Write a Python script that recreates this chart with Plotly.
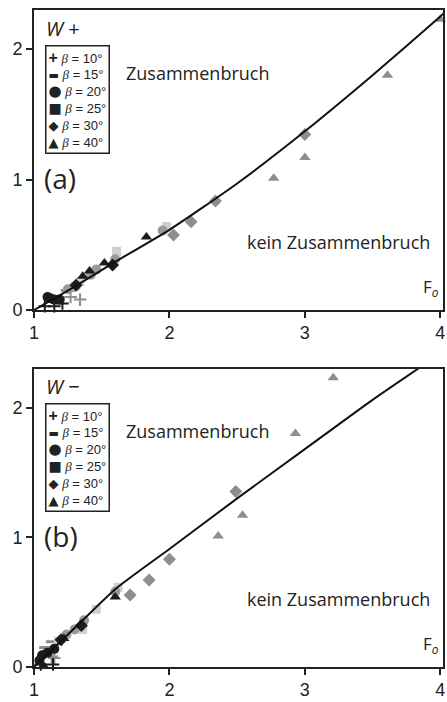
import plotly.graph_objects as go

# ---------------- data (F_o, W) ----------------
# Panel (a): W+
A_curve_F = [1.0, 1.3, 1.58, 2.0, 2.5, 3.0, 3.5, 4.0, 4.03]
A_curve_W = [0.0, 0.18, 0.358, 0.615, 0.97, 1.37, 1.80, 2.25, 2.28]

A10_dark_F = [1.08, 1.15, 1.21]
A10_dark_W = [0.03, 0.03, 0.05]
A10_gray_F = [1.27, 1.34]
A10_gray_W = [0.10, 0.08]
A15_dark_F = [1.17]
A15_dark_W = [0.09]
A15_gray_F = [1.25, 1.29]
A15_gray_W = [0.15, 0.17]
A20_dark_F = [1.10, 1.12, 1.15, 1.19]
A20_dark_W = [0.10, 0.09, 0.08, 0.08]
A20_gray_F = [1.25, 1.42, 1.46, 1.60, 1.95]
A20_gray_W = [0.16, 0.27, 0.31, 0.39, 0.61]
A25_F = [1.30, 1.34, 1.61, 1.98]
A25_W = [0.18, 0.22, 0.45, 0.64]
A30_dark_F = [1.31, 1.58]
A30_dark_W = [0.19, 0.345]
A30_gray_F = [2.03, 2.16, 2.34, 3.00]
A30_gray_W = [0.575, 0.677, 0.835, 1.346]
A40_dark_F = [1.36, 1.41, 1.52, 1.83]
A40_dark_W = [0.26, 0.30, 0.36, 0.56]
A40_gray_F = [2.77, 3.00, 3.61, 4.00]
A40_gray_W = [1.01, 1.17, 1.80, 2.23]

# Panel (b): W-
B_curve_F = [1.0, 1.3, 1.6, 2.0, 2.5, 3.0, 3.5, 3.85]
B_curve_W = [0.0, 0.3, 0.6, 0.91, 1.30, 1.68, 2.06, 2.31]

B10_dark_F = [1.05, 1.14]
B10_dark_W = [0.02, 0.02]
B10_gray_F = [1.13, 1.15]
B10_gray_W = [0.08, 0.07]
B15_dark_F = [1.12]
B15_dark_W = [0.12]
B15_gray_F = [1.09, 1.14]
B15_gray_W = [0.15, 0.195]
B20_dark_F = [1.04, 1.06, 1.10, 1.15]
B20_dark_W = [0.05, 0.09, 0.11, 0.14]
B20_gray_F = [1.24, 1.30, 1.37, 1.60]
B20_gray_W = [0.25, 0.29, 0.36, 0.58]
B25_F = [1.18, 1.36, 1.46, 1.62]
B25_W = [0.20, 0.29, 0.445, 0.615]
B30_dark_F = [1.20, 1.35]
B30_dark_W = [0.21, 0.32]
B30_gray_F = [1.71, 1.85, 2.00, 2.49]
B30_gray_W = [0.556, 0.67, 0.83, 1.354]
B40_dark_F = [1.07, 1.22, 1.60]
B40_dark_W = [0.01, 0.22, 0.54]
B40_gray_F = [2.36, 2.54, 2.93, 3.21]
B40_gray_W = [1.01, 1.17, 1.80, 2.23]

BETA_LABELS = ["10", "15", "20", "25", "30", "40"]
X_TICKS = [1, 2, 3, 4]
Y_TICKS = [0, 1, 2]

# ---------------- styles ----------------
DARK = "#1c1c1c"
GRAY = "#8e8e8e"
MIDGRAY = "#9a9a9a"
LIGHT = "#cfcfcf"
SYMBOLS = {
    "10": dict(symbol="cross-thin", size=9, lw=2),
    "15": dict(symbol="line-ew", size=10, lw=3),
    "20": dict(symbol="circle", size=10, lw=0),
    "25": dict(symbol="square", size=9, lw=0),
    "30": dict(symbol="diamond", size=10, lw=0),
    "40": dict(symbol="triangle-up", size=10, lw=0),
}
LEGEND_GLYPHS = {
    "10": "<span style='font-family:Liberation Sans;font-weight:bold;font-size:16px'>+</span>",
    "15": "<span style='font-family:DejaVu Sans;font-size:11px'>▬</span>",
    "20": "<span style='font-family:DejaVu Sans;font-size:15px'>●</span>",
    "25": "<span style='font-family:DejaVu Sans;font-size:14px'>■</span>",
    "30": "<span style='font-family:DejaVu Sans;font-size:13px'>◆</span>",
    "40": "<span style='font-family:DejaVu Sans;font-size:13px'>▲</span>",
}


def marker(beta, color):
    s = SYMBOLS[beta]
    return dict(symbol=s["symbol"], size=s["size"], color=color,
                line=dict(width=s["lw"], color=color))


fig = go.Figure()

panels = [
    ("x", "y", A_curve_F, A_curve_W, [
        ("10", A10_gray_F, A10_gray_W, GRAY), ("10", A10_dark_F, A10_dark_W, DARK),
        ("15", A15_gray_F, A15_gray_W, GRAY), ("15", A15_dark_F, A15_dark_W, DARK),
        ("25", A25_F, A25_W, LIGHT),
        ("20", A20_gray_F, A20_gray_W, MIDGRAY), ("20", A20_dark_F, A20_dark_W, DARK),
        ("30", A30_gray_F, A30_gray_W, GRAY), ("30", A30_dark_F, A30_dark_W, DARK),
        ("40", A40_gray_F, A40_gray_W, GRAY), ("40", A40_dark_F, A40_dark_W, DARK),
    ]),
    ("x2", "y2", B_curve_F, B_curve_W, [
        ("10", B10_gray_F, B10_gray_W, GRAY), ("10", B10_dark_F, B10_dark_W, DARK),
        ("15", B15_gray_F, B15_gray_W, GRAY), ("15", B15_dark_F, B15_dark_W, DARK),
        ("25", B25_F, B25_W, LIGHT),
        ("20", B20_gray_F, B20_gray_W, MIDGRAY), ("20", B20_dark_F, B20_dark_W, DARK),
        ("30", B30_gray_F, B30_gray_W, GRAY), ("30", B30_dark_F, B30_dark_W, DARK),
        ("40", B40_gray_F, B40_gray_W, GRAY), ("40", B40_dark_F, B40_dark_W, DARK),
    ]),
]

for xa, ya, cF, cW, groups in panels:
    for beta, F, W, col in groups:
        fig.add_trace(go.Scatter(x=F, y=W, mode="markers", xaxis=xa, yaxis=ya,
                                 marker=marker(beta, col), showlegend=False,
                                 name="β = " + beta + "°", cliponaxis=False))
    fig.add_trace(go.Scatter(x=cF, y=cW, mode="lines", xaxis=xa, yaxis=ya,
                             line=dict(color="#111111", width=2, shape="spline", smoothing=0.6),
                             showlegend=False))

axis_common = dict(
    showgrid=False, zeroline=False, showline=True, linecolor="#222222", linewidth=1.6,
    mirror=True, ticks="outside", ticklen=6, tickwidth=1.6, tickcolor="#222222",
    tickfont=dict(family="Liberation Sans, Arial", size=18, color="#222222"),
)

text_font = dict(family="Open Sans", size=18, color="#222222")

legend_text = "<br>".join(
    LEGEND_GLYPHS[b] + " <span style='font-family:Liberation Serif'><i>β</i></span> = " + b + "°"
    for b in BETA_LABELS
)

annotations = []
for xr, yr, wlab, plab, leg_y in [("x domain", "y domain", "<i>W</i> +", "(a)", 0.884),
                                  ("x2 domain", "y2 domain", "<i>W</i> −", "(b)", 0.884)]:
    annotations += [
        dict(x=0.40, y=0.79, xref=xr, yref=yr, text="Zusammenbruch", showarrow=False,
             font=text_font, xanchor="center", yanchor="middle"),
        dict(x=0.745, y=0.228, xref=xr, yref=yr, text="kein Zusammenbruch", showarrow=False,
             font=text_font, xanchor="center", yanchor="middle"),
        dict(x=0.025, y=0.94, xref=xr, yref=yr, text=wlab, showarrow=False,
             font=dict(family="Open Sans", size=20, color="#222222"),
             xanchor="left", yanchor="middle"),
        dict(x=0.02, y=0.44, xref=xr, yref=yr, text=plab, showarrow=False,
             font=dict(family="Open Sans", size=28, color="#222222"),
             xanchor="left", yanchor="middle"),
        dict(x=0.945, y=0.075, xref=xr, yref=yr, text="F<sub><i>o</i></sub>", showarrow=False,
             font=dict(family="Open Sans", size=17, color="#222222"),
             xanchor="left", yanchor="middle"),
        dict(x=0.027, y=leg_y, xref=xr, yref=yr, text=legend_text, showarrow=False,
             align="left", xanchor="left", yanchor="top",
             font=dict(family="Liberation Sans, Arial", size=13, color="#222222"),
             bgcolor="white", bordercolor="#222222", borderwidth=1.5, borderpad=2),
    ]

fig.update_layout(
    width=447, height=702,
    margin=dict(l=34, r=2, t=10, b=34),
    paper_bgcolor="white", plot_bgcolor="white",
    xaxis=dict(axis_common, range=[1, 4.02], tickvals=X_TICKS, domain=[0, 1], anchor="y"),
    yaxis=dict(axis_common, range=[0, 2.3], tickvals=Y_TICKS, domain=[0.5433, 1], anchor="x"),
    xaxis2=dict(axis_common, range=[1, 4.02], tickvals=X_TICKS, domain=[0, 1], anchor="y2"),
    yaxis2=dict(axis_common, range=[0, 2.3], tickvals=Y_TICKS, domain=[0, 0.454], anchor="x2"),
    annotations=annotations,
    showlegend=False,
)

fig.write_html("out.html", config={"displayModeBar": False},
               post_script="document.body.style.margin='0';document.body.style.overflow='hidden';")
